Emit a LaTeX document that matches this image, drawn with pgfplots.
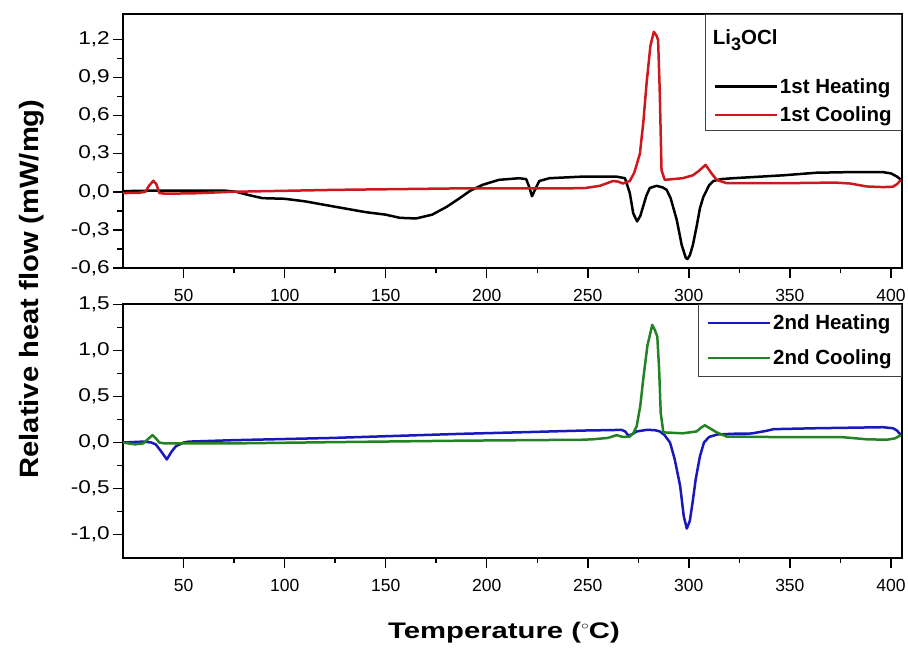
\documentclass[border=0pt]{standalone}
\usepackage{pgfplots}
\pgfplotsset{compat=1.18}
\usepackage{fontspec}
\setmainfont{Liberation Sans}
\usepackage{graphicx}
\definecolor{cred}{RGB}{205,25,30}
\definecolor{cblue}{RGB}{25,25,185}
\definecolor{cgreen}{RGB}{35,130,35}
\pgfplotsset{panel/.style={
  scale only axis, width=779bp,
  xmin=20, xmax=405.5,
  xtick={50,100,...,400}, minor x tick num=1, minor y tick num=1,
  line width=2bp,
  tick style={line width=1.5bp, black},
  major tick length=10bp, minor tick length=5.5bp,
  tick align=outside,
  xtick pos=lower, ytick pos=left,
  /pgf/number format/assume math mode=true,
  xticklabel style={font=\fontsize{17.5bp}{20bp}\selectfont, yshift=-7bp},
  yticklabel style={font=\fontsize{18.5bp}{21bp}\selectfont, xshift=1bp,
     /pgf/number format/fixed, /pgf/number format/fixed zerofill,
     /pgf/number format/precision=1, /pgf/number format/use comma},
  yticklabel={\scalebox{1.22}[1]{\pgfmathprintnumber{\tick}}},
  legend style={at={(1,1)}, anchor=north east, draw=black!75, line width=0.9bp, fill=white,
     font=\fontsize{20.5bp}{24bp}\selectfont\bfseries, inner xsep=8bp, inner ysep=5bp,
     cells={anchor=west}},
  legend image code/.code={\draw[#1, line width=2.5bp] (0bp,0bp) -- (62bp,0bp);},
}, curve/.style={line width=2.5bp, line join=round}}
\begin{document}
\begin{tikzpicture}
\useasboundingbox (0,0) rectangle (908bp,649bp);
% top panel
\begin{axis}[panel, at={(123bp,381bp)}, anchor=south west, height=254bp,
  ymin=-0.6, ymax=1.4, ytick={-0.6,-0.3,...,1.21},
  legend style={row sep=8bp}]
\addlegendimage{empty legend}
\addlegendentry{\hspace{-67bp}\raisebox{0pt}[23bp][0pt]{Li\raisebox{-6bp}{\fontsize{18bp}{18bp}\selectfont 3}OCl}}
\addlegendimage{empty legend}
\addlegendentry{\rule{0pt}{7bp}}
\addplot[black, curve] coordinates {
(20,0.005) (30,0.008) (50,0.01) (70,0.01) (76,0.0) (82,-0.025) (89,-0.05) (100,-0.055)
(110,-0.075) (124,-0.115) (140,-0.16) (150,-0.18) (157,-0.205) (165,-0.21) (173,-0.18)
(180,-0.12) (186.6,-0.05) (192,0.01) (198,0.055) (206,0.094) (216,0.107) (219.5,0.1)
(221,0.04) (222.4,-0.035) (224,0.02) (226,0.085) (231,0.107) (248,0.12) (264,0.12)
(268.4,0.107) (270.8,-0.01) (272.5,-0.17) (274.4,-0.233) (276,-0.19) (277.4,-0.115)
(279,-0.03) (280.7,0.03) (284,0.047) (287,0.035) (289,0.016) (291,-0.05) (294,-0.22)
(296.5,-0.42) (298.5,-0.52) (299.3,-0.53) (300.5,-0.5) (302,-0.42) (303.9,-0.27)
(305.5,-0.13) (307.2,-0.04) (310,0.05) (312.2,0.085) (316,0.1) (322,0.107) (347,0.13)
(363,0.15) (380,0.155) (396,0.155) (400,0.145) (403,0.12) (405,0.095)};
\addlegendentry{1st Heating}
\addplot[cred, curve] coordinates {
(20,-0.01) (28,-0.008) (31,0.0) (33,0.05) (35,0.087) (36.5,0.06) (38,-0.01) (41,-0.015)
(55,-0.012) (74,0.0) (124,0.015) (187,0.027) (248,0.028) (256,0.047) (262.5,0.085)
(265,0.08) (267.4,0.065) (270.8,0.085) (273,0.15) (275.8,0.30) (277.5,0.55) (279.1,0.855)
(281,1.15) (282.7,1.26) (284,1.23) (284.8,1.195) (285.6,0.8) (286.5,0.17) (288.1,0.094)
(297,0.107) (302,0.13) (305,0.165) (308.3,0.212) (311,0.15) (313.8,0.094) (318.7,0.068)
(347,0.068) (360,0.07) (372,0.073) (380,0.065) (388,0.042) (396,0.037) (401,0.04)
(403,0.06) (405,0.094)};
\addlegendentry{1st Cooling}
\end{axis}
% bottom panel
\begin{axis}[panel, at={(123bp,91.3bp)}, anchor=south west, height=253.4bp,
  ymin=-1.25, ymax=1.5, ytick={-1,-0.5,...,1.51},
  legend style={row sep=15bp, inner ysep=8bp}]
\addplot[cblue, curve] coordinates {
(20,0.0) (30,0.01) (34,0.0) (36.2,-0.02) (39,-0.1) (41.7,-0.184) (44,-0.1) (46.2,-0.04)
(50,0.0) (52.8,0.01) (74,0.025) (124,0.05) (187,0.094) (215,0.11) (248,0.13) (266.7,0.137)
(268.5,0.12) (270,0.076) (272,0.09) (274.2,0.12) (279,0.137) (283,0.135) (285.7,0.12)
(288,0.08) (290.7,0.0) (293,-0.18) (295.7,-0.47) (297.5,-0.8) (299,-0.934) (300.5,-0.85)
(302,-0.63) (303.4,-0.4) (305.5,-0.15) (307.5,0.0) (310,0.06) (314,0.087) (322,0.095)
(331,0.098) (338,0.125) (342,0.145) (363,0.155) (396,0.166) (401,0.155) (403,0.13) (405,0.08)};
\addlegendentry{2nd Heating}
\addplot[cgreen, curve] coordinates {
(20,0.0) (26,-0.02) (30,-0.01) (32.5,0.04) (34.6,0.08) (36.5,0.04) (38,0.0) (40.5,-0.01)
(74,-0.01) (124,0.004) (187,0.02) (247,0.03) (252.5,0.035) (260,0.05) (264.2,0.08)
(267.4,0.06) (270.8,0.065) (272.5,0.1) (274.2,0.177) (276,0.4) (277.4,0.68) (279.5,1.05)
(281.9,1.277) (283.2,1.22) (284.4,1.15) (285.3,0.8) (286.1,0.32) (287.4,0.11) (297,0.1)
(303.8,0.12) (306,0.16) (307.9,0.187) (310,0.16) (313.8,0.11) (318.7,0.065) (347,0.058)
(376,0.058) (388,0.035) (398,0.03) (402,0.045) (405,0.08)};
\addlegendentry{2nd Cooling}
\end{axis}
\node[rotate=90, font=\fontsize{26.5bp}{30bp}\selectfont\bfseries] at (32bp,360bp)
  {\scalebox{1.1}[1]{Relative heat flow (mW/mg)}};
\node[font=\fontsize{22.5bp}{26bp}\selectfont\bfseries] at (504bp,16bp)
  {\scalebox{1.3}[1]{Temperature (\raisebox{0.75ex}{\fontsize{12bp}{12bp}\selectfont$\circ$}C)}};
\end{tikzpicture}
\end{document}
